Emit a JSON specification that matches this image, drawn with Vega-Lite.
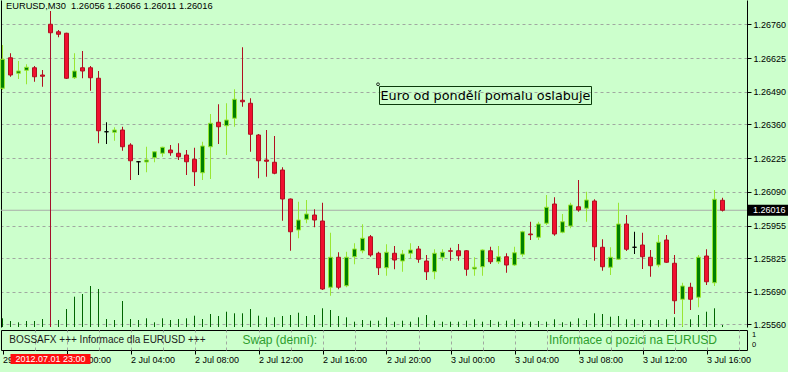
{
  "$schema": "https://vega.github.io/schema/vega-lite/v6.json",
  "background": "#ccffcc",
  "padding": {"left": 0, "top": 0, "right": 0, "bottom": 7},
  "bounds": "flush",
  "spacing": 3,
  "config": {
    "view": {"stroke": null},
    "scale": {"continuousPadding": 0},
    "axis": {"labelFont": "Liberation Sans", "labelFontSize": 9, "labelColor": "#000000", "tickColor": "#000000", "domainColor": "#000000", "gridColor": "#a0a8a0", "gridDash": [3, 3], "gridOpacity": 1, "title": null},
    "text": {"font": "Liberation Sans"}
  },
  "datasets": {
    "candles": [
      {"i":0,"o":1.26504,"h":1.26677,"l":1.26497,"c":1.2662,"v":87,"d":"up"},
      {"i":1,"o":1.26626,"h":1.26644,"l":1.2655,"c":1.26557,"v":60,"d":"down"},
      {"i":2,"o":1.26564,"h":1.26613,"l":1.26541,"c":1.26573,"v":47,"d":"up"},
      {"i":3,"o":1.26576,"h":1.266,"l":1.2652,"c":1.26588,"v":60,"d":"up"},
      {"i":4,"o":1.26586,"h":1.26593,"l":1.2653,"c":1.2655,"v":60,"d":"down"},
      {"i":5,"o":1.26557,"h":1.26577,"l":1.2651,"c":1.26552,"v":80,"d":"down"},
      {"i":6,"o":1.2676,"h":1.26813,"l":1.26721,"c":1.26726,"v":80,"d":"down"},
      {"i":7,"o":1.2673,"h":1.26737,"l":1.26708,"c":1.2672,"v":70,"d":"down"},
      {"i":8,"o":1.26724,"h":1.26726,"l":1.26541,"c":1.26544,"v":180,"d":"down"},
      {"i":9,"o":1.26546,"h":1.26644,"l":1.26541,"c":1.26573,"v":303,"d":"up"},
      {"i":10,"o":1.26586,"h":1.26653,"l":1.26544,"c":1.26573,"v":330,"d":"down"},
      {"i":11,"o":1.26586,"h":1.26593,"l":1.26494,"c":1.26546,"v":410,"d":"down"},
      {"i":12,"o":1.26544,"h":1.26573,"l":1.26284,"c":1.26334,"v":380,"d":"down"},
      {"i":13,"o":1.2633,"h":1.26368,"l":1.26281,"c":1.2633,"v":80,"d":"doji"},
      {"i":14,"o":1.26328,"h":1.26348,"l":1.26294,"c":1.26337,"v":70,"d":"up"},
      {"i":15,"o":1.26337,"h":1.2635,"l":1.26254,"c":1.2627,"v":260,"d":"down"},
      {"i":16,"o":1.26277,"h":1.26284,"l":1.26137,"c":1.26214,"v":80,"d":"down"},
      {"i":17,"o":1.2621,"h":1.26213,"l":1.26157,"c":1.2621,"v":70,"d":"doji"},
      {"i":18,"o":1.26209,"h":1.2627,"l":1.26168,"c":1.26217,"v":87,"d":"up"},
      {"i":19,"o":1.26226,"h":1.26252,"l":1.26208,"c":1.2625,"v":47,"d":"up"},
      {"i":20,"o":1.26244,"h":1.2627,"l":1.2623,"c":1.26268,"v":87,"d":"up"},
      {"i":21,"o":1.26257,"h":1.26277,"l":1.26234,"c":1.26246,"v":70,"d":"down"},
      {"i":22,"o":1.26244,"h":1.26284,"l":1.26217,"c":1.2623,"v":80,"d":"down"},
      {"i":23,"o":1.26237,"h":1.26257,"l":1.26157,"c":1.2621,"v":87,"d":"down"},
      {"i":24,"o":1.2622,"h":1.26266,"l":1.26113,"c":1.2617,"v":113,"d":"down"},
      {"i":25,"o":1.26166,"h":1.2629,"l":1.26137,"c":1.26273,"v":80,"d":"up"},
      {"i":26,"o":1.2627,"h":1.26401,"l":1.26141,"c":1.26364,"v":130,"d":"up"},
      {"i":27,"o":1.26368,"h":1.2644,"l":1.26281,"c":1.2635,"v":110,"d":"down"},
      {"i":28,"o":1.26354,"h":1.26444,"l":1.26237,"c":1.26377,"v":153,"d":"up"},
      {"i":29,"o":1.26384,"h":1.265,"l":1.2635,"c":1.2646,"v":137,"d":"up"},
      {"i":30,"o":1.26456,"h":1.26668,"l":1.2643,"c":1.2645,"v":137,"d":"down"},
      {"i":31,"o":1.26444,"h":1.26464,"l":1.2625,"c":1.2632,"v":180,"d":"down"},
      {"i":32,"o":1.26317,"h":1.26321,"l":1.26144,"c":1.26214,"v":113,"d":"down"},
      {"i":33,"o":1.26217,"h":1.26337,"l":1.2615,"c":1.26212,"v":97,"d":"down"},
      {"i":34,"o":1.26208,"h":1.26313,"l":1.2616,"c":1.26164,"v":97,"d":"down"},
      {"i":35,"o":1.26177,"h":1.26188,"l":1.25974,"c":1.26061,"v":110,"d":"down"},
      {"i":36,"o":1.26061,"h":1.26063,"l":1.25854,"c":1.2593,"v":120,"d":"down"},
      {"i":37,"o":1.25937,"h":1.2605,"l":1.25904,"c":1.25977,"v":143,"d":"up"},
      {"i":38,"o":1.2598,"h":1.26057,"l":1.25964,"c":1.26001,"v":110,"d":"up"},
      {"i":39,"o":1.25997,"h":1.2602,"l":1.25948,"c":1.25977,"v":120,"d":"down"},
      {"i":40,"o":1.25973,"h":1.26046,"l":1.25697,"c":1.25701,"v":187,"d":"down"},
      {"i":41,"o":1.25708,"h":1.25926,"l":1.25674,"c":1.25828,"v":170,"d":"up"},
      {"i":42,"o":1.25828,"h":1.25848,"l":1.257,"c":1.25708,"v":110,"d":"down"},
      {"i":43,"o":1.25714,"h":1.2585,"l":1.25708,"c":1.25828,"v":97,"d":"up"},
      {"i":44,"o":1.2583,"h":1.25884,"l":1.258,"c":1.25861,"v":53,"d":"up"},
      {"i":45,"o":1.25854,"h":1.2596,"l":1.25844,"c":1.25904,"v":70,"d":"up"},
      {"i":46,"o":1.2591,"h":1.25917,"l":1.2583,"c":1.25837,"v":63,"d":"down"},
      {"i":47,"o":1.25844,"h":1.2585,"l":1.25757,"c":1.25786,"v":63,"d":"down"},
      {"i":48,"o":1.25786,"h":1.2588,"l":1.25754,"c":1.25848,"v":97,"d":"up"},
      {"i":49,"o":1.25844,"h":1.25873,"l":1.2578,"c":1.25817,"v":53,"d":"down"},
      {"i":50,"o":1.25813,"h":1.25857,"l":1.2577,"c":1.25841,"v":63,"d":"up"},
      {"i":51,"o":1.25844,"h":1.25884,"l":1.25824,"c":1.25857,"v":53,"d":"up"},
      {"i":52,"o":1.25861,"h":1.25873,"l":1.25806,"c":1.2582,"v":97,"d":"down"},
      {"i":53,"o":1.25813,"h":1.25837,"l":1.25737,"c":1.2577,"v":120,"d":"down"},
      {"i":54,"o":1.2577,"h":1.2586,"l":1.2574,"c":1.25844,"v":63,"d":"up"},
      {"i":55,"o":1.25828,"h":1.2586,"l":1.25814,"c":1.25848,"v":53,"d":"up"},
      {"i":56,"o":1.25854,"h":1.25866,"l":1.25814,"c":1.25852,"v":53,"d":"down"},
      {"i":57,"o":1.25854,"h":1.25881,"l":1.25814,"c":1.25834,"v":53,"d":"down"},
      {"i":58,"o":1.25854,"h":1.25856,"l":1.25754,"c":1.2578,"v":63,"d":"down"},
      {"i":59,"o":1.25781,"h":1.25828,"l":1.25754,"c":1.25788,"v":77,"d":"up"},
      {"i":60,"o":1.2579,"h":1.2586,"l":1.25754,"c":1.25857,"v":53,"d":"up"},
      {"i":61,"o":1.25854,"h":1.2587,"l":1.25801,"c":1.2581,"v":70,"d":"down"},
      {"i":62,"o":1.2581,"h":1.25873,"l":1.25801,"c":1.2583,"v":53,"d":"up"},
      {"i":63,"o":1.2583,"h":1.25844,"l":1.25766,"c":1.25797,"v":63,"d":"down"},
      {"i":64,"o":1.25797,"h":1.2587,"l":1.25793,"c":1.25846,"v":77,"d":"up"},
      {"i":65,"o":1.2584,"h":1.25934,"l":1.2583,"c":1.2593,"v":53,"d":"up"},
      {"i":66,"o":1.25921,"h":1.2597,"l":1.25897,"c":1.25918,"v":53,"d":"down"},
      {"i":67,"o":1.25908,"h":1.2597,"l":1.25897,"c":1.25961,"v":60,"d":"up"},
      {"i":68,"o":1.25964,"h":1.26077,"l":1.25957,"c":1.26028,"v":53,"d":"up"},
      {"i":69,"o":1.26041,"h":1.26068,"l":1.25914,"c":1.25921,"v":77,"d":"down"},
      {"i":70,"o":1.25928,"h":1.26001,"l":1.25924,"c":1.2597,"v":47,"d":"up"},
      {"i":71,"o":1.25953,"h":1.26046,"l":1.25944,"c":1.26037,"v":53,"d":"up"},
      {"i":72,"o":1.2603,"h":1.26137,"l":1.2601,"c":1.26017,"v":87,"d":"down"},
      {"i":73,"o":1.26024,"h":1.2609,"l":1.2597,"c":1.26057,"v":70,"d":"up"},
      {"i":74,"o":1.26053,"h":1.2606,"l":1.25814,"c":1.2587,"v":137,"d":"down"},
      {"i":75,"o":1.25868,"h":1.259,"l":1.25774,"c":1.2579,"v":130,"d":"down"},
      {"i":76,"o":1.25788,"h":1.25868,"l":1.25757,"c":1.25828,"v":103,"d":"up"},
      {"i":77,"o":1.2582,"h":1.26046,"l":1.25817,"c":1.25961,"v":110,"d":"up"},
      {"i":78,"o":1.25961,"h":1.25997,"l":1.25853,"c":1.2586,"v":77,"d":"down"},
      {"i":79,"o":1.25868,"h":1.2593,"l":1.25841,"c":1.25868,"v":77,"d":"doji"},
      {"i":80,"o":1.25877,"h":1.25926,"l":1.25781,"c":1.2583,"v":70,"d":"down"},
      {"i":81,"o":1.25828,"h":1.25857,"l":1.2575,"c":1.25794,"v":70,"d":"down"},
      {"i":82,"o":1.25797,"h":1.25917,"l":1.25788,"c":1.25888,"v":70,"d":"up"},
      {"i":83,"o":1.25897,"h":1.25917,"l":1.25806,"c":1.25808,"v":77,"d":"down"},
      {"i":84,"o":1.25804,"h":1.25837,"l":1.25601,"c":1.25654,"v":97,"d":"down"},
      {"i":85,"o":1.2566,"h":1.25726,"l":1.2555,"c":1.25713,"v":97,"d":"up"},
      {"i":86,"o":1.25708,"h":1.25726,"l":1.25617,"c":1.2566,"v":77,"d":"down"},
      {"i":87,"o":1.25668,"h":1.25837,"l":1.25628,"c":1.25828,"v":120,"d":"up"},
      {"i":88,"o":1.25833,"h":1.2586,"l":1.25717,"c":1.2573,"v":153,"d":"down"},
      {"i":89,"o":1.25726,"h":1.26097,"l":1.25713,"c":1.2606,"v":187,"d":"up"},
      {"i":90,"o":1.26056,"h":1.26066,"l":1.26011,"c":1.26016,"v":20,"d":"down"}
    ],
    "vline": [{"i": 6, "label": "2012.07.01 23:00"}],
    "bid": [{"price": 1.26016, "label": "1.26016"}],
    "note": [{"i": 47.125, "p": 1.26475, "note": "Euro od pondělí pomalu oslabuje"}],
    "head": [{"t": "EURUSD,M30\u00a0\u00a01.26056 1.26066 1.26011 1.26016"}],
    "info": [{"s": "BOSSAFX +++ Informace dla EURUSD +++", "i": 0.85}],
    "info2": [{"s": "Swap (denní):", "i": 30.0}, {"s": "Informace o pozici na EURUSD", "i": 68.3}],
    "subscale": [{"s": "1", "v": 1}, {"s": "0", "v": 0}]
  },
  "vconcat": [
    {
      "width": 746,
      "height": 327,
      "resolve": {"scale": {"y": "independent"}, "axis": {"y": "independent"}},
      "layer": [
        {
          "data": {"name": "candles"},
          "mark": {"type": "rule", "color": "#006400", "strokeWidth": 1},
          "encoding": {
            "x": {"field": "i", "type": "quantitative", "scale": {"domain": [-0.1875, 93.0625], "nice": false, "zero": false, "padding": 0},
                  "axis": {"orient": "bottom", "values": [4,8,12,16,20,24,28,32,36,40,44,48,52,56,60,64,68,72,76,80,84,88,92], "grid": true, "labels": false, "ticks": false, "domain": true, "title": null}},
            "y": {"field": "v", "type": "quantitative", "scale": {"domain": [0, 3270], "nice": false, "zero": false, "padding": 0}, "axis": null},
            "y2": {"datum": 0}
          }
        },
        {
          "data": {"name": "bid"},
          "mark": {"type": "rule", "color": "#a8aca8", "strokeWidth": 1},
          "encoding": {
            "y": {"field": "price", "type": "quantitative", "scale": {"domain": [1.25549, 1.26857], "nice": false, "zero": false, "padding": 0}, "axis": null}
          }
        },
        {
          "data": {"name": "vline"},
          "mark": {"type": "rule", "color": "#a3102a", "strokeWidth": 1},
          "encoding": {
            "x": {"field": "i", "type": "quantitative", "axis": null},
            "y": {"datum": 1.25549, "type": "quantitative", "scale": {"domain": [1.25549, 1.26857], "nice": false, "zero": false, "padding": 0}, "axis": null},
            "y2": {"datum": 1.2681}
          }
        },
        {
          "data": {"name": "candles"},
          "mark": {"type": "rule", "strokeWidth": 1},
          "encoding": {
            "x": {"field": "i", "type": "quantitative", "axis": null},
            "y": {"field": "l", "type": "quantitative", "scale": {"domain": [1.25549, 1.26857], "nice": false, "zero": false, "padding": 0},
                  "axis": {"orient": "left", "labels": false, "ticks": false, "grid": false, "domain": true, "title": null}},
            "y2": {"field": "h"},
            "stroke": {"field": "d", "type": "nominal", "scale": {"domain": ["up", "down", "doji"], "range": ["#99e633", "#b01020", "#000000"]}, "legend": null}
          }
        },
        {
          "data": {"name": "candles"},
          "mark": {"type": "bar", "size": 4, "strokeWidth": 1},
          "encoding": {
            "x": {"field": "i", "type": "quantitative", "axis": null},
            "y": {"field": "o", "type": "quantitative", "scale": {"domain": [1.25549, 1.26857], "nice": false, "zero": false, "padding": 0},
                  "axis": {"orient": "right", "values": [1.2556, 1.2569, 1.25825, 1.25955, 1.2609, 1.26225, 1.2636, 1.2649, 1.26625, 1.2676], "format": ".5f", "grid": true, "ticks": true, "tickSize": 4, "labelPadding": 2, "domain": true, "title": null, "labelOverlap": false, "labelFlush": false, "labelBaseline": "middle"}},
            "y2": {"field": "c"},
            "fill": {"field": "d", "type": "nominal", "scale": {"domain": ["up", "down", "doji"], "range": ["#008000", "#f01030", "#000000"]}, "legend": null},
            "stroke": {"field": "d", "type": "nominal", "scale": {"domain": ["up", "down", "doji"], "range": ["#a6ff33", "#ff3050", "#000000"]}, "legend": null}
          }
        },
        {
          "data": {"name": "note"},
          "mark": {"type": "bar", "size": 18, "fillOpacity": 0, "stroke": "#0a3a0a", "strokeWidth": 1},
          "encoding": {
            "x": {"field": "i", "type": "quantitative", "axis": null},
            "x2": {"datum": 73.625},
            "y": {"field": "p", "type": "quantitative", "scale": {"domain": [1.25549, 1.26857], "nice": false, "zero": false, "padding": 0}, "axis": null}
          }
        },
        {
          "data": {"name": "note"},
          "mark": {"type": "text", "align": "left", "baseline": "middle", "font": "DejaVu Sans", "fontSize": 12.8, "color": "#000000", "dx": 1},
          "encoding": {
            "x": {"field": "i", "type": "quantitative", "axis": null},
            "y": {"field": "p", "type": "quantitative", "scale": {"domain": [1.25549, 1.26857], "nice": false, "zero": false, "padding": 0}, "axis": null},
            "text": {"field": "note"}
          }
        },
        {
          "data": {"name": "note"},
          "mark": {"type": "point", "shape": "circle", "size": 8, "filled": false, "stroke": "#000000", "strokeWidth": 0.8, "opacity": 1},
          "encoding": {
            "x": {"datum": 46.94, "type": "quantitative", "axis": null},
            "y": {"datum": 1.2652, "type": "quantitative", "scale": {"domain": [1.25549, 1.26857], "nice": false, "zero": false, "padding": 0}, "axis": null}
          }
        },
        {
          "data": {"name": "head"},
          "mark": {"type": "text", "align": "left", "baseline": "middle", "fontSize": 9.3, "color": "#000000"},
          "encoding": {
            "x": {"datum": 0.44, "type": "quantitative", "axis": null},
            "y": {"datum": 1.26833, "type": "quantitative", "scale": {"domain": [1.25549, 1.26857], "nice": false, "zero": false, "padding": 0}, "axis": null},
            "text": {"field": "t"}
          }
        },
        {
          "data": {"name": "bid"},
          "mark": {"type": "bar", "size": 11, "color": "#000000"},
          "encoding": {
            "x": {"datum": 93.08, "type": "quantitative", "axis": null},
            "x2": {"datum": 98.3},
            "y": {"field": "price", "type": "quantitative", "scale": {"domain": [1.25549, 1.26857], "nice": false, "zero": false, "padding": 0}, "axis": null}
          }
        },
        {
          "data": {"name": "bid"},
          "mark": {"type": "text", "align": "left", "baseline": "middle", "fontSize": 9, "color": "#ffffff"},
          "encoding": {
            "x": {"datum": 93.81, "type": "quantitative", "axis": null},
            "y": {"field": "price", "type": "quantitative", "scale": {"domain": [1.25549, 1.26857], "nice": false, "zero": false, "padding": 0}, "axis": null},
            "text": {"field": "label"}
          }
        }
      ]
    },
    {
      "width": 746,
      "height": 20,
      "view": {"stroke": "#000000", "strokeWidth": 1},
      "resolve": {"axis": {"x": "independent"}},
      "layer": [
        {
          "data": {"name": "vline"},
          "mark": {"type": "bar", "size": 80, "color": "#ff1010"},
          "encoding": {
            "x": {"field": "i", "type": "quantitative", "scale": {"domain": [-0.1875, 93.0625], "nice": false, "zero": false, "padding": 0},
                  "axis": {"orient": "top", "values": [4,8,12,16,20,24,28,32,36,40,44,48,52,56,60,64,68,72,76,80,84,88,92], "grid": true, "labels": false, "ticks": false, "domain": false, "title": null}},
            "y": {"datum": -0.9, "type": "quantitative", "scale": {"domain": [-0.5, 1.5], "nice": false, "zero": false, "padding": 0}, "axis": null},
            "y2": {"datum": -1.9}
          }
        },
        {
          "data": {"name": "vline"},
          "mark": {"type": "text", "align": "center", "baseline": "middle", "fontSize": 9, "color": "#ffffff"},
          "encoding": {
            "x": {"field": "i", "type": "quantitative", "axis": null},
            "y": {"datum": -1.4, "type": "quantitative", "axis": null},
            "text": {"field": "label"}
          }
        },
        {
          "data": {"name": "info"},
          "mark": {"type": "text", "align": "left", "baseline": "middle", "fontSize": 10, "color": "#1a1a1a"},
          "encoding": {
            "x": {"field": "i", "type": "quantitative",
                  "axis": {"orient": "bottom", "values": [0,8,16,24,32,40,48,56,64,72,80,88],
                           "labelExpr": "['29 Jun 21:00','2 Jul 00:00','2 Jul 04:00','2 Jul 08:00','2 Jul 12:00','2 Jul 16:00','2 Jul 20:00','3 Jul 00:00','3 Jul 04:00','3 Jul 08:00','3 Jul 12:00','3 Jul 16:00'][round(datum.value/8)]",
                           "labelAlign": "left", "labelBaseline": "top", "labelPadding": 1, "tickSize": 4, "ticks": true, "domain": false, "grid": false, "labelFlush": false, "labelOverlap": false, "labelBound": false, "title": null}},
            "y": {"datum": 0.5, "type": "quantitative", "axis": null},
            "text": {"field": "s"}
          }
        },
        {
          "data": {"name": "info2"},
          "mark": {"type": "text", "align": "left", "baseline": "middle", "fontSize": 12, "color": "#2e9e2e"},
          "encoding": {
            "x": {"field": "i", "type": "quantitative", "axis": null},
            "y": {"datum": 0.5, "type": "quantitative", "axis": null},
            "text": {"field": "s"}
          }
        },
        {
          "data": {"name": "subscale"},
          "mark": {"type": "text", "align": "left", "baseline": "middle", "fontSize": 7.5, "color": "#000000"},
          "encoding": {
            "x": {"datum": 93.69, "type": "quantitative", "axis": null},
            "y": {"field": "v", "type": "quantitative", "axis": null},
            "text": {"field": "s"}
          }
        }
      ]
    }
  ]
}
